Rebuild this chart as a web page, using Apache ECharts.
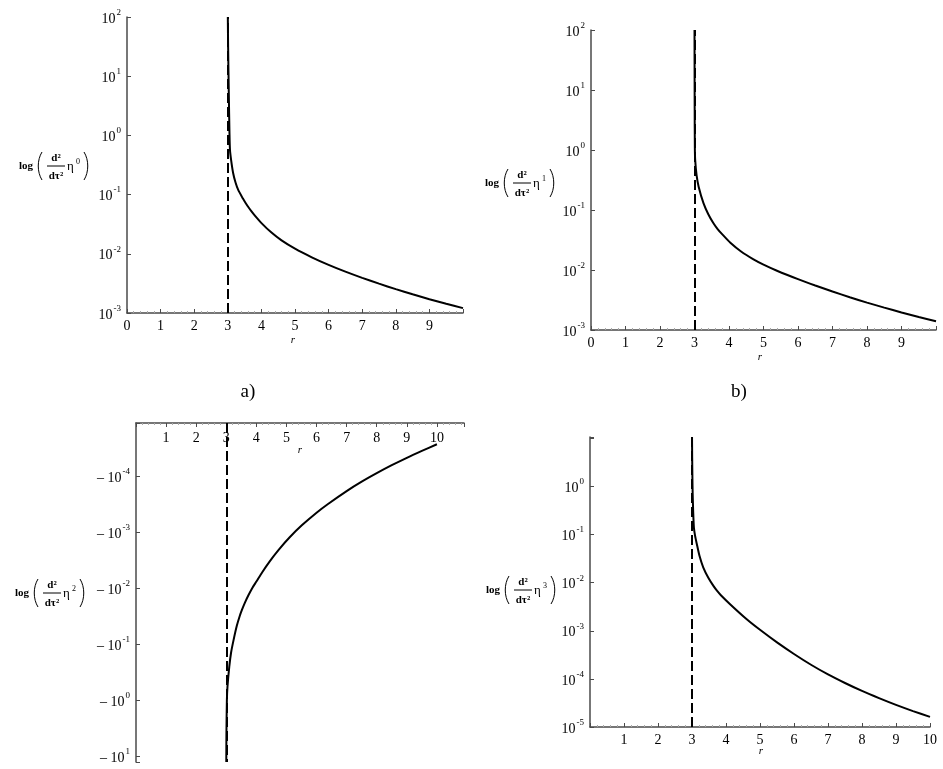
<!DOCTYPE html>
<html><head><meta charset="utf-8">
<script src="https://cdn.jsdelivr.net/npm/echarts@6/dist/echarts.min.js"></script>
<style>html,body{margin:0;padding:0;background:#fff}#c{width:943px;height:769px}</style>
</head><body><div id="c"></div>
<script>
// ---- data ----
const rA = [3.0005, 3.01, 3.03, 3.05, 3.065, 3.1, 3.16, 3.23, 3.31, 3.45, 3.53, 3.61, 3.7, 3.8, 4.01, 4.3, 4.6, 5, 5.5, 6, 6.5, 7, 7.5, 8, 8.5, 9, 9.5, 10];
const vA = [100, 30, 5, 1.1, 0.57, 0.38, 0.23, 0.16, 0.12, 0.0859, 0.0723, 0.0618, 0.0526, 0.0446, 0.0327, 0.0228, 0.01683, 0.01219, 0.00873, 0.0065, 0.00499, 0.00392, 0.00313, 0.00253, 0.00207, 0.00171, 0.00143, 0.00121];
const rB = [3.0005, 3.002, 3.005, 3.01, 3.02, 3.06, 3.12, 3.26, 3.4, 3.55, 3.67, 3.8, 4.04, 4.35, 4.71, 5, 5.39, 6, 6.5, 7, 7.5, 8, 8.5, 9, 9.5, 10];
const vB = [100, 30, 5, 1.1, 0.68, 0.38, 0.245, 0.13, 0.085, 0.06, 0.0481, 0.0396, 0.0284, 0.0203, 0.015, 0.01225, 0.0097, 0.00703, 0.00552, 0.00439, 0.00352, 0.00286, 0.00236, 0.00196, 0.00165, 0.0014];
const rC = [3.0005, 3.005, 3.02, 3.04, 3.1, 3.16, 3.24, 3.35, 3.45, 3.52, 3.62, 3.74, 3.87, 4.0, 4.19, 4.45, 4.74, 5.1, 5.51, 6.0, 6.37, 7.0, 7.5, 8.0, 8.5, 9.0, 9.5, 10];
const vC = [-12.6, -4, -1.0, -0.57, -0.25, -0.14, -0.085, -0.0468, -0.0309, -0.0243, -0.018, -0.0132, -0.00977, -0.00759, -0.00521, -0.00327, -0.00206, -0.00124, -0.000753, -0.000448, -0.000316, -0.000184, -0.000125, -0.0000881, -0.0000635, -0.0000469, -0.0000353, -0.0000269];
const rD = [3.0005, 3.005, 3.012, 3.02, 3.035, 3.056, 3.09, 3.14, 3.22, 3.33, 3.48, 3.63, 3.74, 3.85, 4.12, 4.61, 5, 5.5, 6, 6.5, 7, 7.5, 8, 8.5, 9, 9.5, 10];
const vD = [10.7, 4, 1.5, 0.7, 0.3, 0.14, 0.095, 0.0646, 0.0363, 0.0209, 0.01266, 0.0086, 0.00676, 0.0055, 0.00358, 0.00174, 0.00105, 0.000575, 0.00033, 0.000197, 0.000124, 0.0000822, 0.0000562, 0.0000398, 0.0000288, 0.0000214, 0.0000162];
const xTicksAB = [0, 1, 2, 3, 4, 5, 6, 7, 8, 9];
const xTicksCD = [1, 2, 3, 4, 5, 6, 7, 8, 9, 10];
const yTicksA = [-3, -2, -1, 0, 1, 2];
const yTicksB = [-3, -2, -1, 0, 1, 2];
const yTicksC = [-4, -3, -2, -1, 0, 1];
const yTicksD = [-5, -4, -3, -2, -1, 0];
const asymptote = 3;
const etaPowers = ['0', '1', '2', '3'];
const panelLabels = ['a)', 'b)'];

// ---- chart ----
const FONT = 'Liberation Serif';
const chart = echarts.init(document.getElementById('c'), null, {renderer: 'canvas'});

const axisLineStyle = {color: '#4a4a4a', width: 1.5};
const rich = {
  b: {fontFamily: FONT, fontSize: 14, color: '#000', lineHeight: 18, verticalAlign: 'bottom'},
  s: {fontFamily: FONT, fontSize: 9, color: '#000', lineHeight: 18, verticalAlign: 'top', padding: [0, 0, 0, 1]}
};
function xAx(gi, min, max, ticks, pos) {
  return {
    type: 'value', gridIndex: gi, min: min, max: max, interval: 1, position: pos || 'bottom',
    axisLine: {show: true, onZero: false, lineStyle: axisLineStyle},
    axisTick: {show: true, inside: true, length: 4, lineStyle: {color: '#4a4a4a'}},
    minorTick: {show: true, splitNumber: 5, length: 2, lineStyle: {color: '#aaa'}},
    splitLine: {show: false},
    axisLabel: {
      inside: pos === 'top', margin: pos === 'top' ? 8 : 6,
      fontFamily: FONT, fontSize: 14, color: '#000', showMinLabel: true, showMaxLabel: true,
      formatter: function (v) { const k = Math.round(v); return (Math.abs(v - k) < 1e-6 && ticks.indexOf(k) >= 0) ? String(k) : ''; }
    }
  };
}
function yAx(gi, min, max, ticks, neg) {
  return {
    type: 'log', gridIndex: gi, min: min, max: max, logBase: 10, splitNumber: 10, inverse: !!neg,
    axisLine: {show: true, onZero: false, lineStyle: axisLineStyle},
    axisTick: {show: true, inside: true, length: 4, lineStyle: {color: '#4a4a4a'}},
    splitLine: {show: false},
    axisLabel: {
      margin: 6, showMinLabel: true, showMaxLabel: true, rich: rich,
      formatter: function (v) {
        const n = Math.log10(v), k = Math.round(n);
        if (Math.abs(n - k) > 1e-6 || ticks.indexOf(k) < 0) return '';
        return '{b|' + (neg ? '\u2013 10' : '10') + '}{s|' + k + '}';
      }
    }
  };
}
function curve(gi, rs, vs) {
  return {
    type: 'line', xAxisIndex: gi, yAxisIndex: gi, showSymbol: false, smooth: 0.25,
    clip: true, lineStyle: {color: '#000', width: 2}, silent: true,
    data: rs.map((r, i) => [r, Math.abs(vs[i])]),
    markLine: {
      silent: true, symbol: ['none', 'none'], label: {show: false},
      lineStyle: {color: '#000', width: 2, type: [10, 4]},
      data: [{xAxis: asymptote}]
    }
  };
}
function paren(x, open) {
  const d = open ? -5 : 5;
  return {type: 'bezierCurve', shape: {x1: x, y1: -14, cpx1: x + d, cpy1: -6, cpx2: x + d, cpy2: 6, x2: x, y2: 14},
    style: {stroke: '#000', lineWidth: 1, fill: null}};
}
function yName(x0, y0, pow) {
  const t = (x, y, text, font, align) => ({type: 'text', x: x, y: y,
    style: {text: text, font: font, fill: '#000', align: align || 'left', verticalAlign: 'middle'}});
  return {type: 'group', x: x0, y: y0, silent: true, children: [
    t(0, 0, 'log', 'bold 11px ' + FONT),
    paren(23, true),
    t(37, -8, 'd\u00B2', 'bold 11px ' + FONT, 'center'),
    {type: 'line', shape: {x1: 28, y1: 0, x2: 46, y2: 0}, style: {stroke: '#000', lineWidth: 1}},
    t(37, 10, 'd\u03C4\u00B2', 'bold 11px ' + FONT, 'center'),
    t(48, 1, '\u03B7', '13px ' + FONT),
    t(57, -4, pow, '8px ' + FONT),
    paren(65, false)
  ]};
}
function rLabel(x, y) {
  return {type: 'text', x: x, y: y, silent: true,
    style: {text: 'r', font: 'italic 11px ' + FONT, fill: '#000', align: 'center', verticalAlign: 'middle'}};
}

const option = {
  backgroundColor: '#fff',
  animation: false,
  grid: [
    {left: 127, top: 17, width: 336, height: 296},
    {left: 591, top: 30, width: 345, height: 300},
    {left: 136, top: 423, width: 328, height: 339},
    {left: 590, top: 437, width: 340, height: 290}
  ],
  xAxis: [
    xAx(0, 0, 10, xTicksAB),
    xAx(1, 0, 10, xTicksAB),
    xAx(2, 0, 10.9, xTicksCD, 'top'),
    xAx(3, 0, 10, xTicksCD)
  ],
  yAxis: [
    yAx(0, 1e-3, 100, yTicksA),
    yAx(1, 1e-3, 100, yTicksB),
    yAx(2, Math.pow(10, -4.95), Math.pow(10, 1.1), yTicksC, true),
    yAx(3, 1e-5, Math.pow(10, 1.03), yTicksD)
  ],
  series: [
    curve(0, rA, vA),
    curve(1, rB, vB),
    curve(2, rC, vC),
    curve(3, rD, vD)
  ],
  graphic: [
    yName(19, 166, etaPowers[0]),
    yName(485, 183, etaPowers[1]),
    yName(15, 593, etaPowers[2]),
    yName(486, 590, etaPowers[3]),
    rLabel(293, 340),
    rLabel(760, 357),
    rLabel(300, 450),
    rLabel(761, 751),
    {type: 'text', x: 248, y: 392, silent: true,
      style: {text: panelLabels[0], font: '19px ' + FONT, fill: '#000', align: 'center', verticalAlign: 'middle'}},
    {type: 'text', x: 739, y: 392, silent: true,
      style: {text: panelLabels[1], font: '19px ' + FONT, fill: '#000', align: 'center', verticalAlign: 'middle'}}
  ]
};
chart.setOption(option);
</script></body></html>
